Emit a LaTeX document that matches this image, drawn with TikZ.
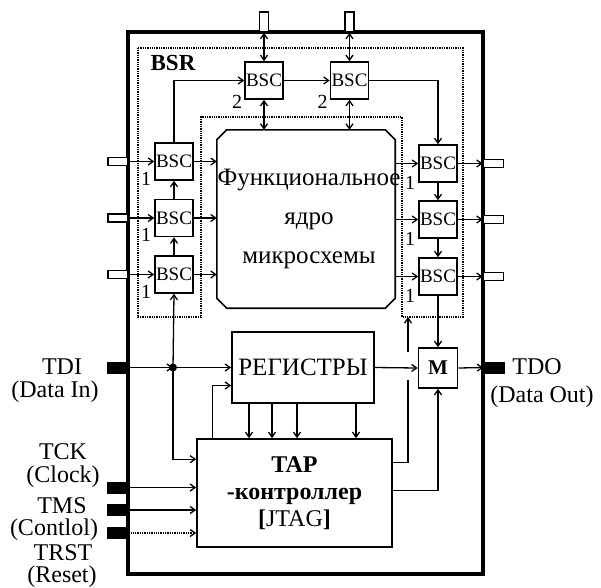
\documentclass[tikz,border=0pt]{standalone}
\usepackage{fontspec}
\setmainfont{Liberation Serif}
\usetikzlibrary{arrows.meta,positioning}
\tikzset{
  arr/.style={-{Straight Barb[length=5pt,width=7pt]}, line width=1.3pt},
  darr/.style={{Straight Barb[length=5pt,width=7pt]}-{Straight Barb[length=5pt,width=7pt]}, line width=1.3pt},
  bscbox/.style={draw, line width=1.5pt, minimum width=38pt, minimum height=37pt, inner sep=0pt, font=\fontsize{19}{19}\selectfont},
  iopin/.style={draw, line width=1.5pt, fill=white, minimum width=20pt, minimum height=8pt, inner sep=0pt},
  toppin/.style={iopin, minimum width=9pt, minimum height=20pt},
  jtagpin/.style={fill=black, minimum width=21pt, minimum height=12pt, inner sep=0pt},
  sig/.style={font=\fontsize{24}{24}\selectfont, inner sep=0pt},
  num/.style={font=\fontsize{20}{20}\selectfont, inner sep=0pt},
}

\begin{document}
\begin{tikzpicture}[x=1pt, y=-1pt]
  \useasboundingbox (0,0) rectangle (601,587);

  % Chip outline
  \node[draw, line width=3.5pt, minimum width=355pt, minimum height=542pt, inner sep=0pt] (chip) at (305.5,303) {};

  % BSR chain area
  \draw[densely dotted, line width=1.3pt] (138,48) -- (463,48) -- (463,317) -- (402,317) -- (402,117)
    -- (201,117) -- (201,317) -- (138,317) -- cycle;
  \node[font=\bfseries\fontsize{23}{23}\selectfont] (bsr) at (173,63) {BSR};

  % Core (cut corners)
  \node[minimum width=178pt, minimum height=178pt, inner sep=0pt] (core) at (306,219) {};
  \draw[line width=1.6pt] ([xshift=10pt]core.north west) -- ([xshift=-10pt]core.north east)
    -- ([yshift=-10pt]core.north east) -- ([yshift=10pt]core.south east)
    -- ([xshift=-10pt]core.south east) -- ([xshift=10pt]core.south west)
    -- ([yshift=10pt]core.south west) -- ([yshift=-10pt]core.north west) -- cycle;
  \node[align=center, font=\fontsize{25}{39}\selectfont, inner sep=0pt] (coretext) at (309,219) {Функциональное\\ядро\\микросхемы};

  % Boundary scan cells
  \node[bscbox] (bscT1) at (264,80.5) {BSC};
  \node[bscbox] (bscT2) at (349.5,80.5) {BSC};
  \node[bscbox] (bscL1) at (174,161.5) {BSC};
  \node[bscbox] (bscL2) at (174,218) {BSC};
  \node[bscbox] (bscL3) at (174,274.5) {BSC};
  \node[bscbox] (bscR1) at (438,163.5) {BSC};
  \node[bscbox] (bscR2) at (438,219.5) {BSC};
  \node[bscbox] (bscR3) at (438,276.5) {BSC};
  \foreach \n in {L1,L2,L3} \node[num, anchor=east] at ([xshift=-3pt, yshift=2pt]bsc\n.south west) {1};
  \foreach \n in {R1,R2,R3} \node[num, anchor=east] at ([xshift=-3pt]bsc\n.south west) {1};
  \foreach \n in {T1,T2} \node[num, anchor=east] at ([xshift=-2pt, yshift=-2pt]bsc\n.south west) {2};

  % Registers, mux, TAP
  \node[draw, line width=1.6pt, minimum width=142pt, minimum height=71pt, font=\fontsize{25}{25}\selectfont] (reg) at (303,367.5) {РЕГИСТРЫ};
  \node[draw, line width=1.6pt, minimum width=39pt, minimum height=40pt, font=\bfseries\fontsize{21}{21}\selectfont] (mux) at (438,368) {M};
  \node[draw, line width=1.6pt, minimum width=195pt, minimum height=108pt, align=center, font=\fontsize{24}{27}\selectfont] (tap) at (294.5,493)
    {\textbf{TAP}\\\textbf{-контроллер}\\\textbf{[}JTAG\textbf{]}};

  % Pins
  \node[toppin] (pinT1) at (264,22) {};
  \node[toppin] (pinT2) at (349.5,22) {};
  \foreach \n in {1,2,3} {
    \node[iopin] (pinL\n) at (bscL\n.center -| 118,0) {};
    \node[iopin] (pinR\n) at (bscR\n.center -| 493.5,0) {};
  }
  \node[jtagpin] (pinTDI) at (117.5,367.5) {};
  \node[jtagpin] (pinTDO) at (494,367.5) {};
  \node[jtagpin] (pinTCK) at (117.5,487.5) {};
  \node[jtagpin] (pinTMS) at (117.5,510) {};
  \node[jtagpin] (pinTRST) at (117.5,533) {};

  % Pin labels
  \node[sig] (lTDI) at (62,367) {TDI};
  \node[sig] (lDin) at (55,392) {(Data In)};
  \node[sig] (lTDO) at (537,367) {TDO};
  \node[sig] (lDout) at (542,397) {(Data Out)};
  \node[sig] (lTCK) at (63,452) {TCK};
  \node[sig] (lClk) at (63,477) {(Clock)};
  \node[sig] (lTMS) at (62,506) {TMS};
  \node[sig] (lCtl) at (54,530) {(Contlol)};
  \node[sig] (lTRST) at (63,553) {TRST};
  \node[sig] (lRst) at (62,577) {(Reset)};

  % Scan chain
  \foreach \n in {1,2,3} {
    \draw[arr] (pinL\n.east) -- (bscL\n.west);
    \draw[arr] (bscL\n.east) -- (bscL\n.east -| core.west);
    \draw[arr] (bscR\n.west -| core.east) -- (bscR\n.west);
    \draw[arr] (bscR\n.east) -- (pinR\n.west);
  }
  \draw[arr] (bscL3.north) -- (bscL2.south);
  \draw[arr] (bscL2.north) -- (bscL1.south);
  \draw[arr] (bscL1.north) |- (bscT1.west);
  \draw[arr] (bscT1.east) -- (bscT2.west);
  \draw[arr] (bscT2.east) -| (bscR1.north);
  \draw[arr] (bscR1.south) -- (bscR2.north);
  \draw[arr] (bscR2.south) -- (bscR3.north);
  \draw[arr] (bscR3.south) -- (mux.north);
  \foreach \n in {T1,T2} {
    \draw[darr] (pin\n.south) -- (bsc\n.north);
    \draw[darr] (bsc\n.south) -- (bsc\n.south |- core.north);
  }

  % TDI path
  \coordinate (jn) at (173,367.5);
  \draw[arr] (pinTDI.east) -- (jn);
  \draw[arr] (jn) -- (reg.west);
  \draw[arr] (jn) -- (bscL3.south);
  \draw[arr] (jn) |- ([yshift=-21pt]tap.north west);
  \fill (jn) circle (4pt);

  % JTAG inputs
  \draw[arr] (pinTCK.east) -- (pinTCK.east -| tap.west);
  \draw[arr] (pinTMS.east) -- (pinTMS.east -| tap.west);
  \draw[arr, densely dotted] (pinTRST.east) -- (pinTRST.east -| tap.west);

  % Registers and TAP
  \draw[arr] ([xshift=16pt]tap.north west) |- ([yshift=-18pt]reg.west);
  \foreach \x in {249,272,297,356}
    \draw[arr] (reg.south -| \x,0) -- (tap.north -| \x,0);
  \draw[arr] (reg.east) -- (mux.west);
  \draw[arr] (mux.east) -- (pinTDO.west);

  % TAP to BSR and mux
  \coordinate (bsrin) at (408,317);
  \draw[line width=1.3pt] ([yshift=-24pt]tap.north east) -| (408,380);
  \draw[arr] (408,352) -- (bsrin);
  \draw[arr] ([yshift=-52pt]tap.north east) -| (mux.south);
\end{tikzpicture}
\end{document}
